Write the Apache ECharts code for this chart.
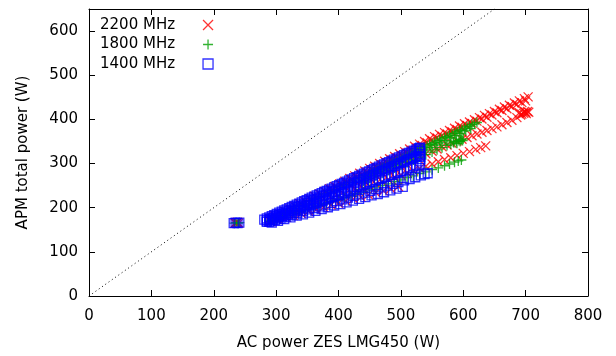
<!DOCTYPE html>
<html><head><meta charset="utf-8">
<script src="https://cdn.jsdelivr.net/npm/echarts@6/dist/echarts.min.js"></script>
<style>html,body{margin:0;padding:0;background:#fff}#c{width:616px;height:356px}</style>
</head><body><div id="c"></div>
<script>
const seriesNames = ['2200 MHz', '1800 MHz', '1400 MHz'];
const xTicks = [0, 100, 200, 300, 400, 500, 600, 700, 800];
const yTicks = [0, 100, 200, 300, 400, 500, 600];
const diagonal = [[0, 0], [650, 650]];

// 2200 MHz
const red2200Idle = [[234,165],[237,166],[240,165],[238,167],[235,166]];
const red2200Upper = [[290,175],[298,181],[306,186],[314,192],[322,197],[330,203],[338,209],[346,214],[354,220],[362,226],[370,231],[378,237],[386,243],[394,248],[402,254],[410,260],[418,266],[426,272],[434,278],[442,283],[450,289],[458,294],[466,300],[474,305],[482,311],[490,316],[498,322],[506,327],[514,333],[522,339],[530,344],[538,350],[546,356],[554,361],[562,366],[570,370],[578,375],[586,380],[594,385],[602,390],[610,394],[618,399],[626,404],[634,409],[642,413],[650,418],[658,423],[666,428],[674,432],[682,437],[690,442],[698,447],[704,451]];
const red2200Upper2 = [[390,240],[398,245],[406,251],[414,257],[422,263],[430,269],[438,274],[446,280],[454,286],[462,291],[470,297],[478,302],[486,308],[494,313],[502,318],[510,324],[518,330],[526,335],[534,341],[542,347],[550,352],[558,358],[566,362],[574,367],[582,372],[590,377],[598,382],[606,386],[614,391],[622,396],[630,401],[638,405],[646,410],[654,415],[662,420],[670,424],[678,429],[686,434],[694,438],[700,442]];
const red2200Middle = [[420,250],[430,256],[440,262],[450,268],[460,274],[470,280],[480,286],[490,292],[500,298],[510,304],[520,310],[530,316],[540,322],[550,328],[558,333],[566,338],[574,342],[582,346],[590,351],[598,355],[606,359],[614,363],[622,367],[630,371],[638,375],[646,379],[654,383],[662,388],[670,393],[678,398],[686,404],[692,410],[697,414],[700,416],[703,418],[698,418],[694,412],[690,415],[701,413],[705,416]];
const red2200Lower = [[290,170],[300,175],[310,180],[320,185],[330,190],[340,195],[350,200],[360,205],[370,210],[380,215],[390,220],[400,225],[410,229],[420,234],[430,239],[440,244],[450,249],[460,254],[470,259],[480,264],[490,269],[500,274],[510,279],[520,284],[530,289],[540,294],[550,299],[560,304],[570,309],[580,313],[590,318],[600,323],[610,327],[620,332],[628,336],[636,340]];
const red2200Low2 = [[292,168],[304,173],[316,178],[328,182],[340,187],[352,192],[364,196],[376,201],[388,206],[400,210],[412,215],[424,220],[436,224],[448,229],[460,234],[472,238],[484,243],[496,248]];

// 1800 MHz
const green1800Idle = [[233,165],[236,166],[239,165],[241,166]];
const green1800Upper = [[290,172],[298,177],[306,183],[314,188],[322,193],[330,199],[338,204],[346,209],[354,215],[362,220],[370,225],[378,231],[386,236],[394,241],[402,247],[410,252],[418,257],[426,263],[434,268],[442,273],[450,279],[458,284],[466,289],[474,295],[482,300],[490,305],[498,311],[506,316],[514,321],[522,327],[530,332],[538,337],[546,343],[554,348],[562,353],[570,359],[578,364],[586,369],[594,375],[602,380],[610,385],[618,390],[622,393],
  [454,282],[462,287],[470,292],[478,298],[486,303],[494,308],[502,313],[510,319],[518,324],[526,330],[534,335],[542,340],[550,345],[558,351],[566,356],[574,361],[582,367],[590,372],[598,377],[606,383],[614,388]];
const green1800Upper2 = [[444,267],[452,272],[460,278],[468,283],[476,288],[484,294],[492,299],[500,304],[508,310],[516,315],[524,320],[532,326],[540,331],[548,336],[556,342],[564,347],[572,352],[580,358],[588,363],[596,368],[604,374],[612,379]];
const green1800Middle = [[440,260],[450,266],[460,272],[470,278],[480,284],[490,290],[500,296],[510,302],[520,308],[530,314],[540,320],[550,326],[558,331],[566,336],[574,341],[580,344],[585,347],[589,350],[593,352],[597,354],[600,356],[584,349],[590,346],[595,350],[599,352]];
const green1800Lower = [[290,169],[300,173],[310,178],[320,182],[330,187],[340,191],[350,196],[360,200],[370,205],[380,209],[390,214],[400,218],[410,223],[420,227],[430,232],[440,236],[450,241],[460,245],[470,250],[480,254],[490,259],[500,263],[510,268],[520,272],[530,277],[540,281],[550,286],[560,290],[570,295],[578,299],[586,303],[592,306],[597,308]];

// 1400 MHz
const blue1400Idle = [[232,165],[235,166],[238,165],[241,166]];
const blue1400Upper = [[281,173],[285,176],[289,178],[293,181],[297,183],[301,186],[305,189],[309,191],[313,194],[317,196],[321,199],[325,202],[329,204],[333,207],[337,209],[341,212],[345,215],[349,217],[353,220],[357,223],[361,225],[365,228],[369,230],[373,233],[377,236],[381,238],[385,241],[389,243],[393,246],[397,249],[401,251],[405,254],[409,256],[413,259],[417,262],[421,264],[425,267],[429,269],[433,272],[437,275],[441,277],[445,280],[449,282],[453,285],[457,288],[461,290],[465,293],[469,296],[473,298],[477,301],[481,303],[485,306],[489,309],[493,311],[497,314],[501,316],[505,319],[509,322],[513,324],[517,327],[521,329],[525,332],[529,335],[531,336]];
const blue1400Mid = [[285,171],[290,174],[295,177],[300,180],[305,183],[310,186],[315,189],[320,192],[325,195],[330,198],[335,201],[340,204],[345,207],[350,211],[355,214],[360,217],[365,220],[370,223],[375,226],[380,229],[385,232],[390,235],[395,238],[400,241],[405,244],[410,247],[415,250],[420,253],[425,256],[430,259],[435,262],[440,265],[445,268],[450,271],[455,274],[460,277],[465,280],[470,283],[475,286],[480,289],[485,292],[490,295],[495,298],[500,301],[505,304],[510,307],[515,310],[520,313],[525,316],[530,318]];
const blue1400Upper2 = [[285,168],[290,171],[295,173],[300,176],[305,179],[310,181],[315,184],[320,187],[325,189],[330,192],[335,195],[340,198],[345,200],[350,203],[355,206],[360,208],[365,211],[370,214],[375,216],[380,219],[385,222],[390,224],[395,227],[400,230],[405,232],[410,235],[415,238],[420,240],[425,243],[430,246],[435,248],[440,251],[445,254],[450,257],[455,259],[460,262],[465,265],[470,267],[475,270],[480,273],[485,275],[490,278],[495,281],[500,283],[505,286],[510,289],[515,291],[520,294],[525,297],[530,300],[531,305],[531,310],[531,315],[531,322],[531,328],[530,332]];
const blue1400Lower = [[289,168],[298,172],[307,176],[316,180],[325,184],[334,188],[343,192],[352,196],[361,199],[370,203],[379,207],[388,211],[397,215],[406,219],[415,223],[424,227],[433,230],[442,234],[451,238],[460,242],[469,246],[478,250],[487,254],[496,258],[505,262],[514,265],[523,269],[532,273],[538,276],[543,278]];
const blue1400Lower2 = [[293,166],[303,170],[313,174],[323,178],[333,182],[343,185],[353,189],[363,193],[373,197],[383,201],[393,205],[403,208],[413,212],[423,216],[433,220],[443,224],[453,228],[463,231],[473,235],[483,239],[493,243],[503,247]];

const red2200 = [].concat(red2200Idle, red2200Upper, red2200Upper2, red2200Middle, red2200Lower, red2200Low2);
const green1800 = [].concat(green1800Idle, green1800Upper, green1800Upper2, green1800Middle, green1800Lower);
const blue1400 = [].concat(blue1400Idle, blue1400Upper, blue1400Mid, blue1400Upper2, blue1400Lower, blue1400Lower2);

const FONT = 'DejaVu Sans';
const crossX = 'path://M0,0L10,10M10,0L0,10';
const plus = 'path://M5,0L5,10M0,5L10,5';

const baseAxis = {
  min: 0, interval: 100,
  axisLine: {show: true, onZero: false, lineStyle: {color: '#000', width: 1}},
  axisTick: {show: true, inside: true, length: 6, lineStyle: {color: '#000', width: 1}},
  splitLine: {show: false},
  axisLabel: {color: '#000', fontFamily: FONT, fontSize: 15, margin: 13},
  nameTextStyle: {color: '#000', fontFamily: FONT, fontSize: 15}
};

const chart = echarts.init(document.getElementById('c'), null, {renderer: 'canvas'});
chart.setOption({
  animation: false,
  backgroundColor: '#fff',
  grid: {left: 89, right: 28, top: 9, bottom: 60, containLabel: false},
  legend: {
    data: seriesNames, left: 100, top: 17, orient: 'vertical', align: 'right',
    padding: 0, itemGap: 3.5, itemWidth: 10, itemHeight: 10,
    itemStyle: {borderWidth: 1.3},
    textStyle: {color: '#000', fontFamily: FONT, fontSize: 15, lineHeight: 16, padding: [0, 23, 0, 0]}
  },
  xAxis: [
    Object.assign({}, baseAxis, {type: 'value', max: 800, position: 'bottom',
      name: 'AC power ZES LMG450 (W)', nameLocation: 'middle', nameGap: 40}),
    Object.assign({}, baseAxis, {type: 'value', max: 800, position: 'top', axisLabel: {show: false}})
  ],
  yAxis: [
    Object.assign({}, baseAxis, {type: 'value', max: 650, position: 'left',
      axisLabel: Object.assign({}, baseAxis.axisLabel, {showMaxLabel: false, margin: 11}),
      name: 'APM total power (W)', nameLocation: 'middle', nameGap: 58}),
    Object.assign({}, baseAxis, {type: 'value', max: 650, position: 'right', axisLabel: {show: false}})
  ],
  series: [
    {type: 'line', data: diagonal, symbol: 'none', silent: true, z: 1,
      lineStyle: {color: '#000', width: 1, type: [1, 3]}},
    {name: seriesNames[0], type: 'scatter', data: red2200, symbol: crossX, symbolSize: 9,
      itemStyle: {color: '#ff0000', borderColor: '#ff0000', borderWidth: 1.3}},
    {name: seriesNames[1], type: 'scatter', data: green1800, symbol: plus, symbolSize: 10,
      itemStyle: {color: '#00a000', borderColor: '#00a000', borderWidth: 1.3}},
    {name: seriesNames[2], type: 'scatter', data: blue1400, symbol: 'rect', symbolSize: 9,
      itemStyle: {color: 'rgba(0,0,0,0)', borderColor: '#0000ff', borderWidth: 1.3}}
  ]
});
</script></body></html>
